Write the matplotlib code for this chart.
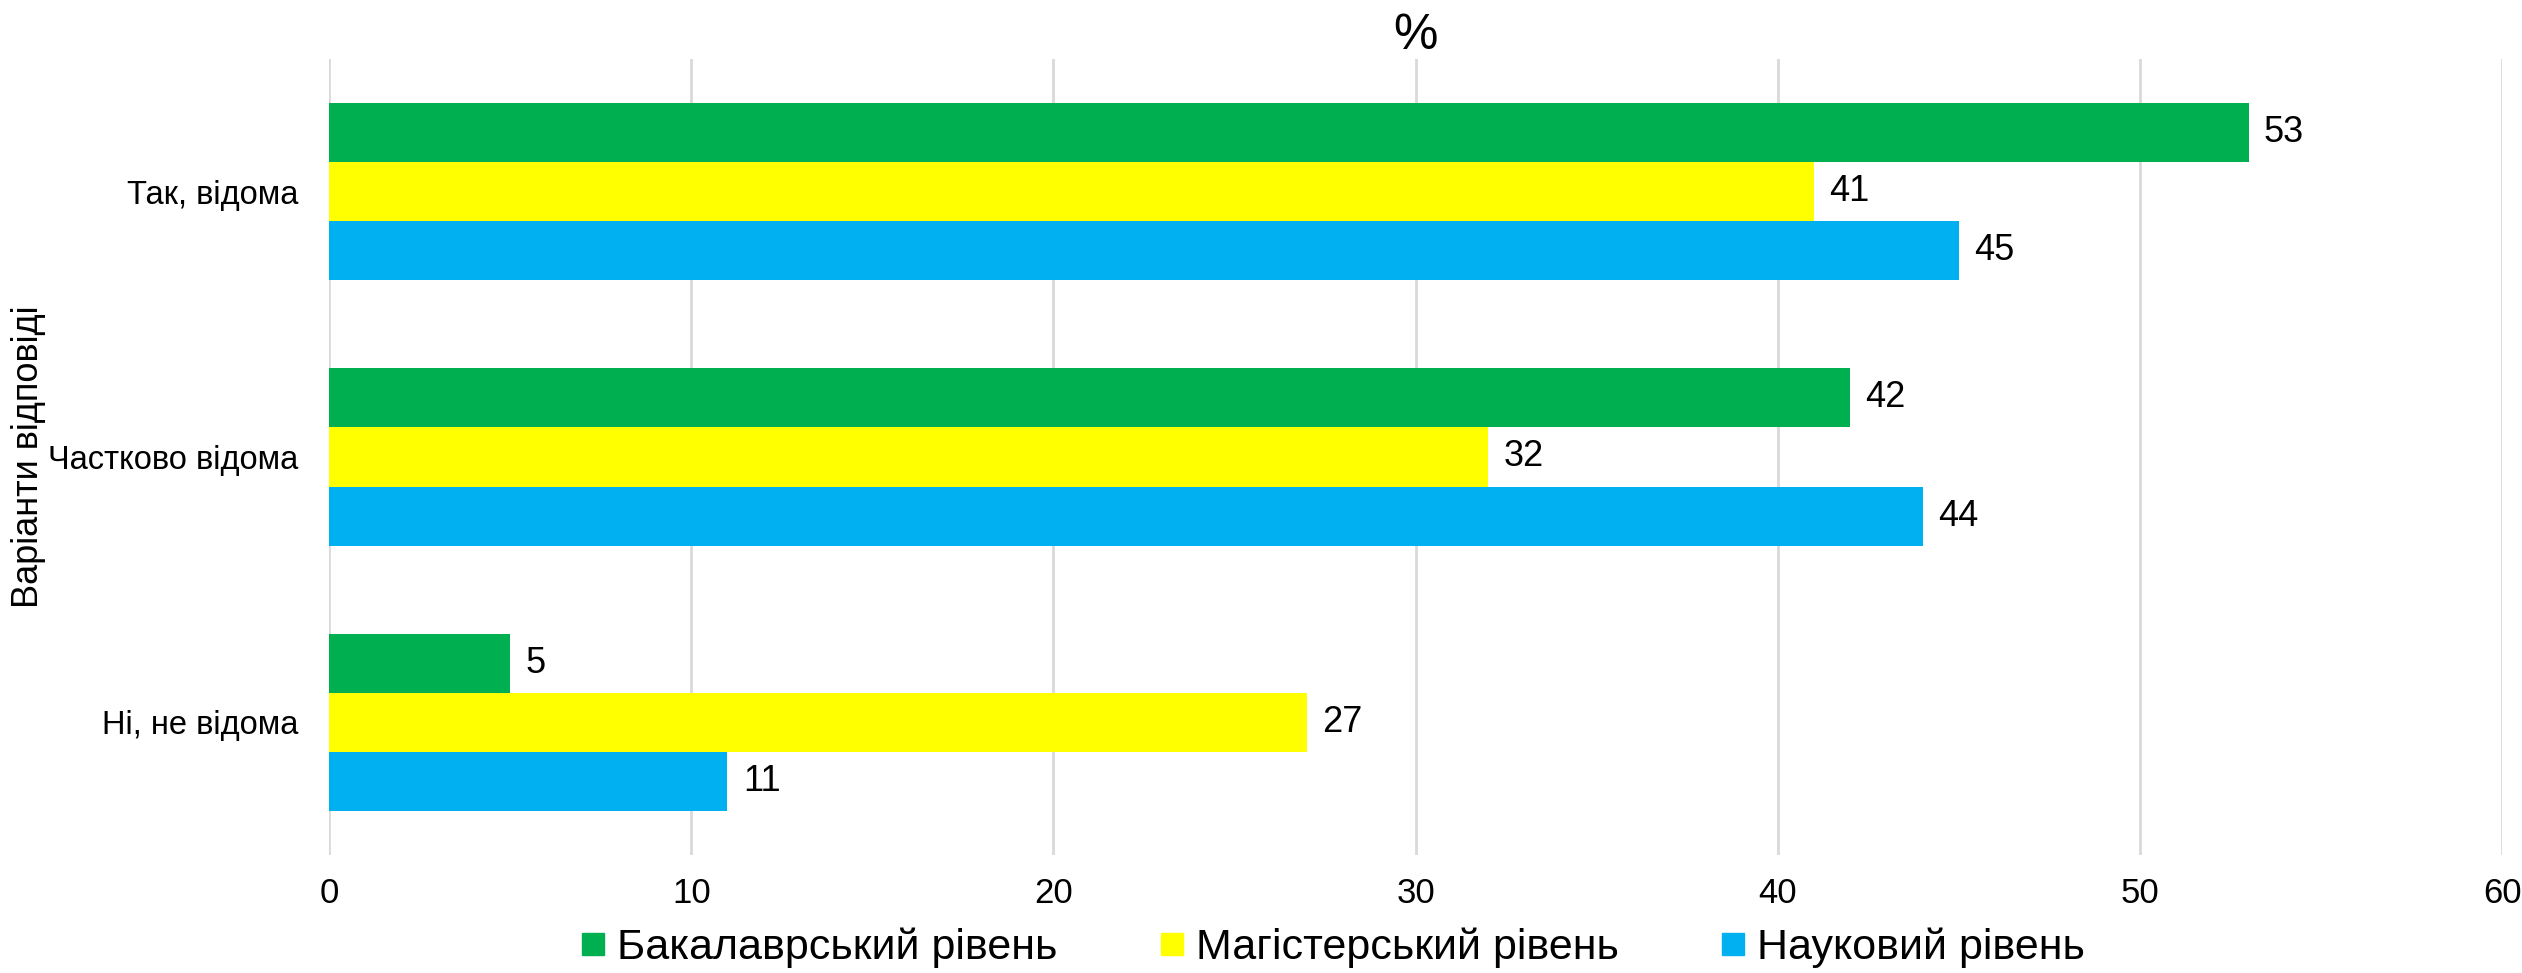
import matplotlib
matplotlib.use("Agg")
import matplotlib.pyplot as plt
import numpy as np
from matplotlib.lines import Line2D

plt.rcParams['font.family'] = ['Liberation Sans', 'DejaVu Sans']

categories = ["Так, відома", "Частково відома", "Ні, не відома"]
series_names = ["Бакалаврський рівень", "Магістерський рівень", "Науковий рівень"]
bachelor = [53, 42, 5]
master = [41, 32, 27]
science = [45, 44, 11]
colors = ["#00B050", "#FFFF00", "#00B0F0"]
x_ticks = [0, 10, 20, 30, 40, 50, 60]

fig = plt.figure(figsize=(25.22, 9.73), dpi=100)
ax = fig.add_axes([0.1305, 0.1213, 0.9921 - 0.1305, 0.9394 - 0.1213])

y = np.arange(len(categories))
h = 0.2226
data = [bachelor, master, science]
for i, (vals, name, c) in enumerate(zip(data, series_names, colors)):
    bars = ax.barh(y + (i - 1) * h, vals, height=h, color=c, label=name, zorder=3)
    ax.bar_label(bars, labels=[str(v) for v in vals], padding=11, fontsize=26)

ax.set_ylim(2.5, -0.5)
ax.set_xlim(0, 60)
ax.set_xticks(x_ticks)
ax.set_yticks(y)
ax.set_yticklabels(categories, fontsize=23.5)
ax.tick_params(axis='y', length=0, pad=22)
ax.tick_params(axis='x', length=0, pad=16, labelsize=25)
ax.grid(axis='x', color='#D9D9D9', linewidth=2, zorder=0)
for s in ax.spines.values():
    s.set_visible(False)

ax.set_ylabel("Варіанти відповіді", fontsize=26)
ax.yaxis.set_label_coords(-0.1305, 0.5)
ax.set_title("%", fontsize=36, pad=0)

legend_x = [0.2300, 0.4596, 0.6820]
for name, c, lx in zip(series_names, colors, legend_x):
    hnd = Line2D([0], [0], marker='s', linestyle='none', markersize=15.8,
                 markerfacecolor=c, markeredgecolor=c)
    fig.legend([hnd], [name], loc='center left', bbox_to_anchor=(lx, 0.0262),
               frameon=False, fontsize=31, handletextpad=0.26, handlelength=0.6,
               borderpad=0, borderaxespad=0)

fig.savefig("out.png", dpi=100)
